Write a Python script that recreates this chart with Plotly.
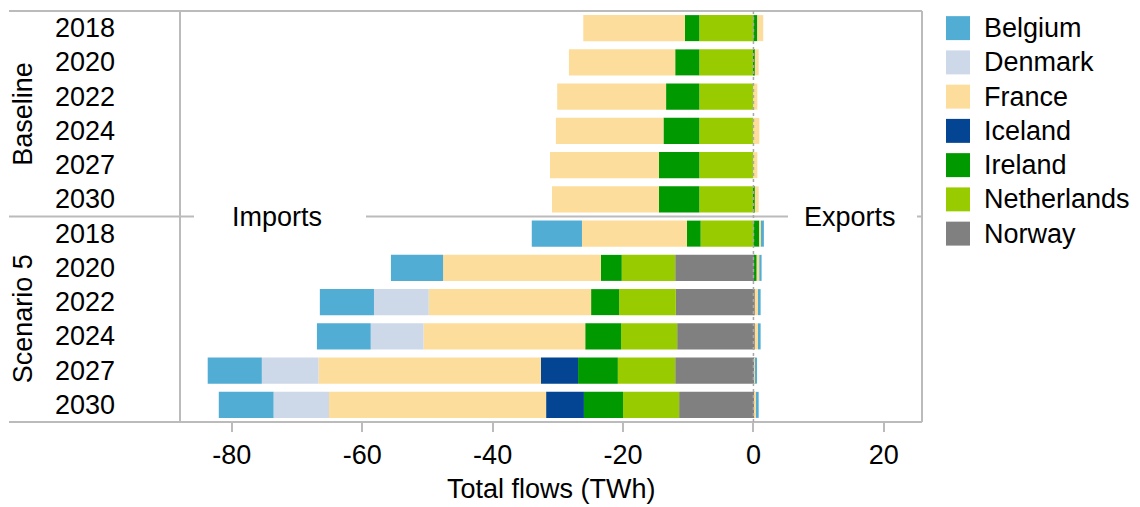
import plotly.graph_objects as go

# Row labels: two scenarios, six years each (top to bottom)
scenarios = ["Baseline", "Scenario 5"]
years = ["2018", "2020", "2022", "2024", "2027", "2030",
         "2018", "2020", "2022", "2024", "2027", "2030"]

# Legend order of interconnected countries
countries = ["Belgium", "Denmark", "France", "Iceland", "Ireland", "Netherlands", "Norway"]

# Imports (TWh, negative) per country, one value per row
imports_norway      = [0, 0, 0, 0, 0, 0, 0, -12.0, -11.9, -11.7, -12.0, -11.4]
imports_netherlands = [-8.3, -8.3, -8.3, -8.3, -8.3, -8.3, -8.1, -8.2, -8.7, -8.6, -8.8, -8.6]
imports_ireland     = [-2.2, -3.7, -5.1, -5.5, -6.2, -6.2, -2.1, -3.2, -4.3, -5.5, -6.1, -6.0]
imports_iceland     = [0, 0, 0, 0, 0, 0, 0, 0, 0, 0, -5.7, -5.8]
imports_france      = [-15.6, -16.3, -16.7, -16.5, -16.7, -16.4, -16.1, -24.2, -24.9, -24.8, -34.1, -33.3]
imports_denmark     = [0, 0, 0, 0, 0, 0, 0, 0, -8.4, -8.1, -8.7, -8.5]
imports_belgium     = [0, 0, 0, 0, 0, 0, -7.7, -8.0, -8.3, -8.25, -8.3, -8.4]

# Exports (TWh, positive) per country, one value per row
exports_norway  = [0, 0, 0, 0, 0, 0, 0, 0.2, 0.2, 0.2, 0.1, 0.2]
exports_ireland = [0.6, 0.2, 0, 0, 0, 0.2, 0.9, 0.3, 0, 0, 0, 0]
exports_france  = [0.9, 0.6, 0.6, 0.9, 0.6, 0.6, 0.4, 0.4, 0.6, 0.6, 0.15, 0.3]
exports_belgium = [0, 0, 0, 0, 0, 0, 0.3, 0.35, 0.3, 0.3, 0.3, 0.3]

x_ticks = [-80, -60, -40, -20, 0, 20]

colors = {
    "Belgium": "#52ADD5",
    "Denmark": "#CDD9E8",
    "France": "#FDDD9B",
    "Iceland": "#034592",
    "Ireland": "#009900",
    "Netherlands": "#99CC00",
    "Norway": "#808080",
}

FONT = "Liberation Sans, Arial, sans-serif"
GRID = "#BBBBBB"
rows = list(range(len(years)))

fig = go.Figure()

# stacking order from zero outwards
import_series = [
    ("Norway", imports_norway), ("Netherlands", imports_netherlands),
    ("Ireland", imports_ireland), ("Iceland", imports_iceland),
    ("France", imports_france), ("Denmark", imports_denmark),
    ("Belgium", imports_belgium),
]
export_series = [
    ("Norway", exports_norway), ("Ireland", exports_ireland),
    ("France", exports_france), ("Belgium", exports_belgium),
]

for name, vals in import_series + export_series:
    fig.add_trace(go.Bar(
        y=rows, x=vals, orientation="h", name=name, legendgroup=name,
        showlegend=False, width=0.76,
        marker=dict(color=colors[name], line=dict(width=0)),
    ))

# plot area geometry in pixels (for paper-coordinate conversion)
W, H = 1140, 507
ML, MR, MT, MB = 180, 218, 11, 85
PW, PH = W - ML - MR, H - MT - MB


def px_x(p):
    return (p - ML) / PW


def px_y(p):
    return (H - MB - p) / PH


line = dict(color=GRID, width=2)
shapes = [
    # outer frame top / bottom (extending under the row labels)
    dict(type="line", xref="paper", yref="paper", x0=px_x(9), x1=1, y0=1, y1=1, line=line),
    dict(type="line", xref="paper", yref="paper", x0=px_x(9), x1=1, y0=0, y1=0, line=line),
    # label column divider and right border
    dict(type="line", xref="paper", yref="paper", x0=0, x1=0, y0=0, y1=1, line=line),
    dict(type="line", xref="paper", yref="paper", x0=1, x1=1, y0=0, y1=1, line=line),
    # divider between the two scenarios, broken around the captions
    dict(type="line", xref="paper", yref="y", x0=px_x(9), x1=px_x(194), y0=5.5, y1=5.5, line=line),
    dict(type="line", xref="paper", yref="y", x0=px_x(366), x1=px_x(788), y0=5.5, y1=5.5, line=line),
    dict(type="line", xref="paper", yref="y", x0=px_x(917), x1=1, y0=5.5, y1=5.5, line=line),
    # zero line
    dict(type="line", xref="x", yref="paper", x0=0, x1=0, y0=0, y1=1, layer="above",
         line=dict(color="#A8A8A8", width=1.5, dash="dot")),
]

annotations = []
txt = dict(family=FONT, size=27, color="#000000")

# year labels
for i, yr in enumerate(years):
    annotations.append(dict(text=yr, xref="paper", yref="y", x=px_x(85), y=i,
                            xanchor="center", yanchor="middle", showarrow=False, font=txt))

# scenario labels (rotated)
for name, yc in zip(scenarios, [2.5, 8.5]):
    annotations.append(dict(text=name, xref="paper", yref="y", x=px_x(23), y=yc,
                            textangle=-90, xanchor="center", yanchor="middle",
                            showarrow=False, font=txt))

annotations.append(dict(text="Imports", xref="paper", yref="y", x=px_x(277), y=5.5,
                        xanchor="center", yanchor="middle", showarrow=False, font=txt))
annotations.append(dict(text="Exports", xref="paper", yref="y", x=px_x(850), y=5.5,
                        xanchor="center", yanchor="middle", showarrow=False, font=txt))

# axis title
annotations.append(dict(text="Total flows (TWh)", xref="paper", yref="paper", x=0.5,
                        y=px_y(489), xanchor="center", yanchor="middle",
                        showarrow=False, font=txt))

# legend: colour squares with country names
for i, c in enumerate(countries):
    shapes.append(dict(type="rect", xref="paper", yref="y",
                       x0=px_x(946), x1=px_x(970), y0=i - 0.35, y1=i + 0.35,
                       fillcolor=colors[c], line=dict(width=0)))
    annotations.append(dict(text=c, xref="paper", yref="y", x=px_x(982), y=i,
                            xanchor="left", yanchor="middle", showarrow=False, font=txt))

fig.update_layout(
    width=W, height=H,
    margin=dict(l=ML, r=MR, t=MT, b=MB, pad=0),
    barmode="relative",
    plot_bgcolor="white", paper_bgcolor="white",
    showlegend=False,
    font=txt,
    shapes=shapes,
    annotations=annotations,
    xaxis=dict(
        range=[-87.95, 25.85], tickvals=x_ticks, ticktext=[str(v) for v in x_ticks],
        ticks="outside", ticklen=9, tickwidth=2, tickcolor=GRID,
        showgrid=False, zeroline=False, showline=False,
        tickfont=txt, fixedrange=True,
    ),
    yaxis=dict(
        range=[11.5, -0.5], showticklabels=False, ticks="",
        showgrid=False, zeroline=False, showline=False, fixedrange=True,
    ),
)

fig.write_html("out.html")
